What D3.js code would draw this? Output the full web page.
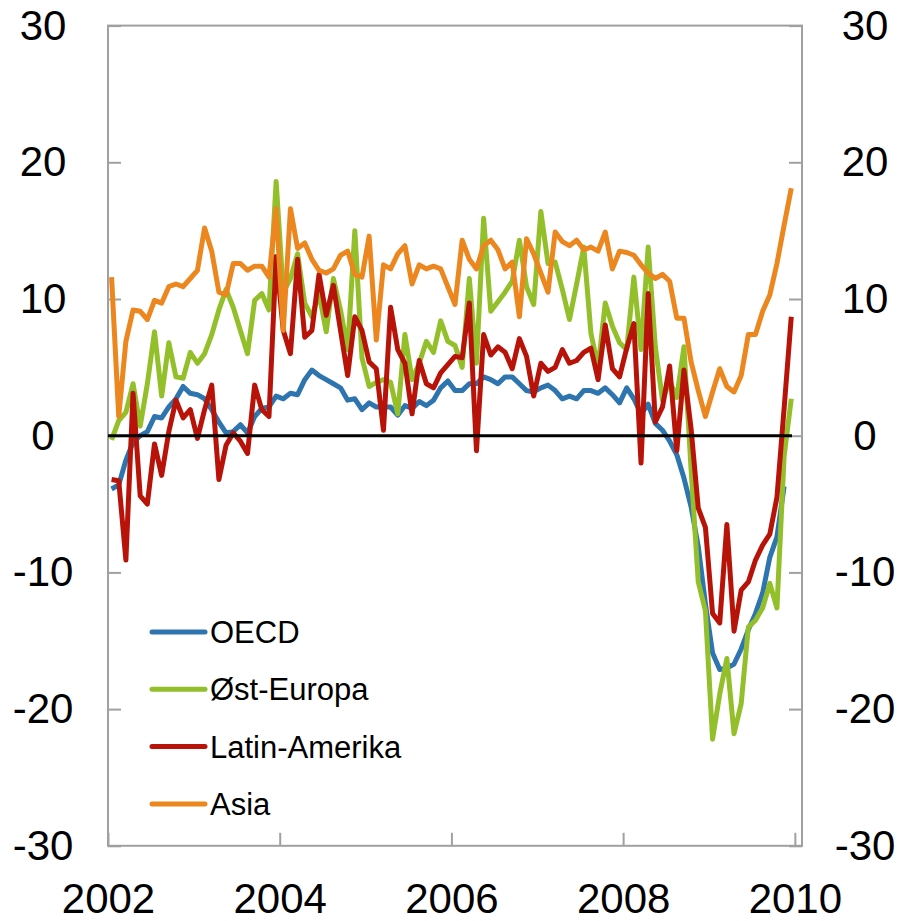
<!DOCTYPE html>
<html>
<head>
<meta charset="utf-8">
<script src="https://cdn.jsdelivr.net/npm/d3@7"></script>
<style>
  body { margin: 0; background: #fff; }
  svg { display: block; }
  text { font-family: "Liberation Sans", Arial, sans-serif; fill: #000; }
</style>
</head>
<body>
<script>
// monthly growth, Jan 2002 - Dec 2009
var yearLabels = ['2002', '2004', '2006', '2008', '2010'];
var yearTicks = [0, 24, 48, 72, 96];
var yTicks = [-30, -20, -10, 0, 10, 20, 30];

var oecd = [-3.9, -3.6, -1.8, -0.5, 0.0, 0.3, 1.4, 1.3, 2.1, 2.7, 3.6, 3.1,
	3.0, 2.7, 1.9, 1.0, 0.2, 0.3, 0.8, 0.2, 1.4, 2.0, 2.1, 2.9,
	2.7, 3.1, 3.0, 4.1, 4.8, 4.4, 4.1, 3.8, 3.5, 2.6, 2.7, 1.9,
	2.4, 2.1, 2.1, 2.1, 1.5, 2.2, 2.0, 2.5, 2.2, 2.6, 3.5, 4.0,
	3.3, 3.3, 3.8, 3.8, 4.3, 4.1, 3.8, 4.3, 4.3, 3.8, 3.3, 3.2,
	3.5, 3.7, 3.3, 2.7, 2.9, 2.7, 3.3, 3.3, 3.1, 3.5, 3.0, 2.4,
	3.5, 2.7, 1.6, 2.3, 0.9, 0.4, -0.4, -1.4, -3.1, -5.2, -8.1, -12.3,
	-15.9, -17.1, -17.0, -16.7, -15.6, -14.2, -13.0, -11.5, -8.9, -7.4, -3.7, null];

var ostEuropa = [-0.3, 1.1, 1.7, 3.8, 0.7, 3.8, 7.6, 2.9, 6.8, 4.3, 4.2, 6.1,
	5.3, 6.0, 7.4, 9.2, 10.7, 9.4, 7.7, 6.0, 9.9, 10.4, 9.2, 18.6,
	10.5, 11.5, 13.3, 9.7, 8.7, 10.4, 7.6, 11.5, 9.2, 6.3, 15.0, 5.7,
	3.6, 3.9, 4.1, 3.9, 1.6, 7.4, 4.1, 5.3, 6.9, 6.1, 8.4, 6.9,
	6.6, 5.0, 11.5, 5.3, 15.9, 9.1, 9.8, 10.5, 11.3, 14.3, 10.9, 9.6,
	16.4, 12.6, 12.7, 10.7, 8.5, 11.1, 13.8, 7.5, 5.0, 9.7, 8.0, 6.8,
	6.3, 11.6, 6.3, 13.8, 6.5, 2.6, 4.0, 2.8, 6.5, -2.5, -10.7, -12.8,
	-22.2, -18.9, -16.3, -21.8, -19.6, -14.0, -13.5, -12.6, -10.8, -12.6, -1.5, 2.7];

var latinAmerika = [-3.2, -3.3, -9.1, 3.1, -4.4, -5.0, -0.6, -2.9, 0.3, 2.6, 1.3, 1.9,
	-0.2, 1.9, 3.7, -3.2, -0.7, 0.2, -0.4, -1.3, 3.7, 1.9, 1.4, 13.1,
	7.7, 6.0, 12.9, 7.2, 7.7, 11.8, 8.8, 11.0, 7.7, 4.4, 8.7, 7.7,
	5.4, 4.9, 0.4, 9.4, 6.3, 5.3, 1.6, 5.5, 3.8, 3.5, 4.6, 5.2,
	5.8, 5.7, 9.7, -1.1, 7.4, 5.9, 6.5, 6.1, 4.9, 7.1, 5.8, 2.9,
	5.3, 4.7, 5.0, 6.3, 5.3, 5.5, 6.1, 6.4, 4.1, 8.1, 4.9, 4.3,
	6.4, 8.2, -2.0, 10.4, 1.0, 2.1, 5.1, -1.1, 4.8, 0.5, -5.3, -6.7,
	-13.0, -13.7, -6.5, -14.3, -11.3, -10.7, -9.1, -8.0, -7.2, -4.5, 2.0, 8.7];

var asia = [11.6, 1.4, 6.9, 9.2, 9.1, 8.5, 9.9, 9.7, 10.9, 11.1, 10.9, 11.5,
	12.1, 15.2, 13.5, 10.5, 10.3, 12.6, 12.6, 12.1, 12.4, 12.4, 11.6, 16.6,
	7.7, 16.6, 13.7, 14.1, 12.9, 12.1, 11.9, 12.2, 13.2, 13.5, 11.8, 11.6,
	14.6, 7.0, 12.5, 12.2, 13.3, 13.9, 11.1, 12.5, 12.2, 12.4, 12.2, 10.9,
	9.6, 14.3, 12.9, 12.2, 13.9, 14.3, 13.6, 12.2, 12.7, 8.7, 14.4, 13.3,
	11.9, 10.5, 14.9, 14.2, 13.9, 14.3, 13.6, 13.8, 13.5, 14.9, 12.2, 13.5,
	13.4, 13.2, 12.5, 11.9, 11.5, 11.8, 11.3, 8.6, 8.6, 5.4, 3.3, 1.4,
	3.2, 4.9, 3.6, 3.2, 4.4, 7.4, 7.4, 9.1, 10.3, 12.6, 15.4, 18.1];

var seriesNames = ['OECD', 'Øst-Europa', 'Latin-Amerika', 'Asia'];
var seriesColors = ['#2e74ae', '#93bf2b', '#b81309', '#ec861e'];
var seriesValues = [oecd, ostEuropa, latinAmerika, asia];

var width = 904, height = 921;
var plotLeft = 108, plotRight = 802, plotTop = 25.6, plotBottom = 845.8;

var svg = d3.select('body').append('svg')
	.attr('width', width)
	.attr('height', height);

var x = d3.scaleLinear().domain([0, 97]).range([plotLeft, plotRight]);
var y = d3.scaleLinear().domain([-30, 30]).range([plotBottom, plotTop]);

// frame
svg.append('rect')
	.attr('x', plotLeft).attr('y', plotTop)
	.attr('width', plotRight - plotLeft).attr('height', plotBottom - plotTop)
	.attr('fill', 'none')
	.attr('stroke', '#a0a0a0')
	.attr('stroke-width', 2);

var styleAxis = function (g) {
	g.select('.domain').remove();
	g.selectAll('line').attr('stroke', '#a0a0a0').attr('stroke-width', 2);
	g.selectAll('text').style('font-size', '42px');
};

// plain hyphen for negatives, as in the original
var fmt = function (d) { return String(d); };

svg.append('g')
	.attr('transform', 'translate(' + plotLeft + ',0)')
	.call(d3.axisLeft(y).tickValues(yTicks).tickSize(-13).tickFormat(fmt))
	.call(styleAxis)
	.call(function (g) {
		g.selectAll('text').attr('x', 43 - plotLeft).attr('text-anchor', 'middle');
	});

svg.append('g')
	.attr('transform', 'translate(' + plotRight + ',0)')
	.call(d3.axisRight(y).tickValues(yTicks).tickSize(-13).tickFormat(fmt))
	.call(styleAxis)
	.call(function (g) {
		g.selectAll('text').attr('x', 865 - plotRight).attr('text-anchor', 'middle');
	});

svg.append('g')
	.attr('transform', 'translate(0,' + plotBottom + ')')
	.call(d3.axisBottom(x).tickValues(yearTicks).tickSize(-13)
		.tickFormat(function (d, i) { return yearLabels[i]; }))
	.call(styleAxis)
	.call(function (g) {
		g.selectAll('text').attr('y', 37);
	});

var line = d3.line()
	.defined(function (d) { return d != null; })
	.x(function (d, i) { return x(i + 0.5); })
	.y(function (d) { return y(d); });

seriesValues.forEach(function (values, k) {
	svg.append('path')
		.datum(values)
		.attr('d', line)
		.attr('fill', 'none')
		.attr('stroke', seriesColors[k])
		.attr('stroke-width', 5)
		.attr('stroke-linejoin', 'round');
});

// zero line
svg.append('line')
	.attr('x1', x(0)).attr('x2', x(95.6))
	.attr('y1', y(0)).attr('y2', y(0))
	.attr('stroke', '#000')
	.attr('stroke-width', 3);

// legend
var legend = svg.append('g');
seriesNames.forEach(function (name, k) {
	var ly = 632 + k * 57.3;
	legend.append('line')
		.attr('x1', 152).attr('x2', 205)
		.attr('y1', ly).attr('y2', ly)
		.attr('stroke', seriesColors[k])
		.attr('stroke-width', 5)
		.attr('stroke-linecap', 'round');
	legend.append('text')
		.attr('x', 210).attr('y', ly + 11)
		.style('font-size', '31px')
		.text(name);
});
</script>
</body>
</html>
